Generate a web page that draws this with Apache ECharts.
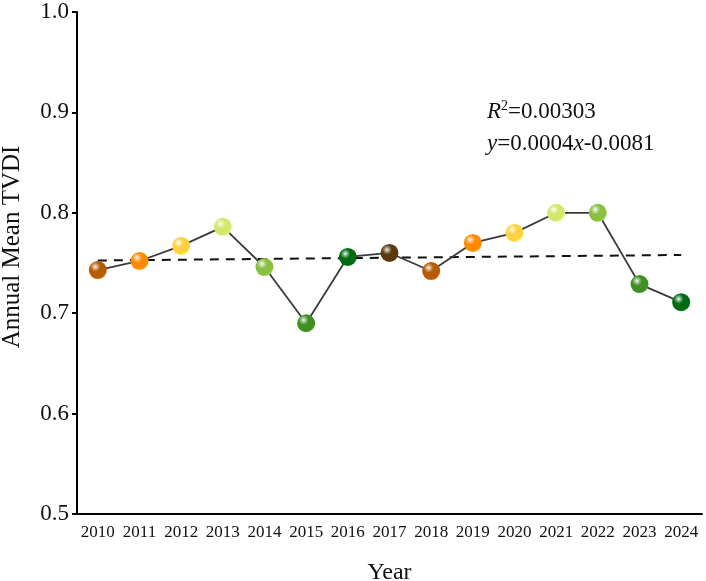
<!DOCTYPE html>
<html>
<head>
<meta charset="utf-8">
<script src="https://cdn.jsdelivr.net/npm/echarts@6/dist/echarts.min.js"></script>
<style>html,body{margin:0;padding:0;background:#fff}#c{width:706px;height:581px}</style>
</head>
<body>
<div id="c"></div>
<script>
const years = ['2010','2011','2012','2013','2014','2015','2016','2017','2018','2019','2020','2021','2022','2023','2024'];
const tvdi = [0.743,0.752,0.767,0.786,0.746,0.690,0.756,0.760,0.742,0.770,0.780,0.800,0.800,0.729,0.711];
const markerColors = ['#b85a00','#ff8a00','#ffd040','#d2e86a','#8abf42','#3f8f22','#006b10','#5a3a08','#b85a00','#ff8a00','#ffd040','#d2e86a','#8abf42','#3f8f22','#006b10'];
const trendEnds = [0.7525, 0.7580];
const yTicks = ['0.5','0.6','0.7','0.8','0.9','1.0'];

function sphere(c){
  return {type:'radial', x:0.36, y:0.32, r:0.72, colorStops:[
    {offset:0, color:'#ffffff'},
    {offset:0.12, color: echarts.color.lift(c, 0.6)},
    {offset:0.38, color: c},
    {offset:0.85, color: c},
    {offset:1, color: echarts.color.lift(c, -0.18)}
  ]};
}

const chart = echarts.init(document.getElementById('c'));
const font = 'Liberation Serif';
chart.setOption({
  animation:false,
  grid:{left:77, right:4, top:12, bottom:67, containLabel:false, outerBoundsMode:'none'},
  xAxis:{
    type:'category', data:years, boundaryGap:true,
    name:'Year', nameLocation:'middle', nameGap:47,
    nameTextStyle:{fontFamily:font, fontSize:24, color:'#111'},
    axisLine:{lineStyle:{color:'#000', width:2}},
    axisTick:{alignWithLabel:true, length:5, lineStyle:{color:'#000', width:2}},
    axisLabel:{fontFamily:font, fontSize:17, color:'#111', margin:10, interval:0},
    splitLine:{show:false}
  },
  yAxis:{
    type:'value', min:0.5, max:1.0, interval:0.1,
    name:'Annual Mean TVDI', nameLocation:'middle', nameGap:52,
    nameTextStyle:{fontFamily:font, fontSize:25, color:'#111', padding:[0,0,0,32]},
    axisLine:{show:true, lineStyle:{color:'#000', width:2}},
    axisTick:{show:true, length:5, lineStyle:{color:'#000', width:2}},
    axisLabel:{fontFamily:font, fontSize:23, color:'#111', margin:8,
      formatter:(v)=>{ const i = Math.round((v-0.5)/0.1); return yTicks[i]; }},
    splitLine:{show:false}
  },
  series:[
    {
      type:'line', data:[[0, trendEnds[0]],[years.length-1, trendEnds[1]]],
      symbol:'none', z:1,
      lineStyle:{color:'#111', width:2, type:[9,7]}
    },
    {
      type:'line', z:3,
      data: tvdi.map((v,i)=>({value:v, itemStyle:{color:sphere(markerColors[i])}})),
      symbol:'circle', symbolSize:18,
      lineStyle:{color:'#3a3a3a', width:1.8},
      itemStyle:{borderWidth:0}
    }
  ],
  graphic:[
    {type:'text', left:487, top:99, style:{
      text:'{i|R}{s|2}{n|=0.00303}',
      rich:{
        i:{fontFamily:font, fontSize:23, fontStyle:'italic', fill:'#111'},
        s:{fontFamily:font, fontSize:14, fill:'#111', verticalAlign:'top', padding:[0,0,11,0]},
        n:{fontFamily:font, fontSize:23, fill:'#111'}
      }
    }},
    {type:'text', left:487, top:132, style:{
      text:'{i|y}{n|=0.0004}{i|x}{n|-0.0081}',
      rich:{
        i:{fontFamily:font, fontSize:23, fontStyle:'italic', fill:'#111'},
        n:{fontFamily:font, fontSize:23, fill:'#111'}
      }
    }}
  ]
});
</script>
</body>
</html>
